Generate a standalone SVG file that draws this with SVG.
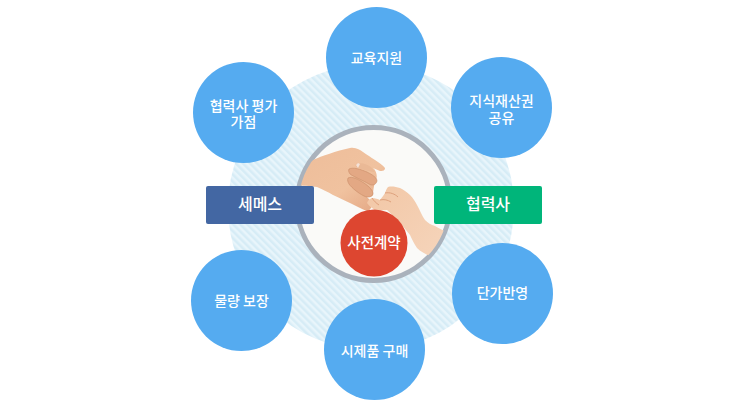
<svg xmlns="http://www.w3.org/2000/svg" width="750" height="415" viewBox="0 0 750 415">
<style>
.b{fill:#55abf0}
.t{font-family:"Noto Sans CJK KR","Noto Sans",sans-serif;font-size:14px;font-weight:500;fill:#fff;text-anchor:middle}
.l{font-size:16px}
.m{font-size:14.500px}
.f{fill:#e3a884;stroke:#c98d68;stroke-width:.6}
</style>
<defs>
<pattern id="h" width="5" height="5" patternUnits="userSpaceOnUse" patternTransform="rotate(-45)">
<rect width="5" height="5" fill="#e8f5fb"/><rect width="2.500" height="5" fill="#d6ecf6"/>
</pattern>
<linearGradient id="lh" x1="0" y1="0" x2="1" y2="1"><stop offset="0" stop-color="#eebd9a"/><stop offset=".6" stop-color="#f0c29f"/><stop offset="1" stop-color="#e3a582"/></linearGradient>
<linearGradient id="rh" x1="0" y1="0" x2="1" y2="1"><stop offset="0" stop-color="#f2c7a6"/><stop offset="1" stop-color="#f6d6bd"/></linearGradient>
<clipPath id="c"><circle cx="373.500" cy="204" r="75"/></clipPath>
</defs>
<rect width="750" height="415" fill="#fff"/>
<circle id="halo" cx="371" cy="207" r="143" fill="url(#h)"/>
<g id="connectors"/>
<g id="center-photo">
<circle cx="373.500" cy="204" r="76.500" fill="#fafaf8" stroke="#aab2bc" stroke-width="5"/>
<g clip-path="url(#c)">
<path fill="url(#lh)" d="M296 172C303 168 308 163 313 160C322 156 336 151 350 148C356 147 360 150 363 152C369 156 372 158 375 160C379 163 383 165 385 168C385 171 382 171 380 171L373 168C377 171 378 178 375 182C374 186 373 190 373 195C372 197 369 197 367 197C370 200 373 203 372 205C371 209 369 211 367 211C363 210 361 208 358 207L350 203C344 200 339 198 333 195C328 192 322 189 317 187C311 186 306 186 296 185Z"/>
<path class="f" d="M349 169C353 167 360 169 367 172C373 175 377 178 377 181C376 185 372 186 369 184C362 180 354 177 350 174C349 172 348 171 349 169Z"/>
<path class="f" d="M348 178C352 176 358 179 364 183C370 187 373 191 373 194C372 197 368 198 364 196C358 193 352 188 349 184C348 182 347 180 348 178Z"/>
<path fill="#eab996" d="M356 164C360 162 368 164 372 168L375 172C371 172 364 170 358 168C356 167 355 166 356 164Z"/>
<path fill="#f4e2d8" d="M356 165L358 163L360 164L358 168Z"/>
<path fill="url(#rh)" d="M367 203C368 200 370 199 372 198C375 198 378 199 380 200C382 197 384 195 385 193C386 190 387 188 388 187C392 186 396 187 400 188C404 190 407 192 410 195C413 198 415 201 417 205C420 210 422 216 425 220C428 223 431 225 435 226C440 229 445 231 450 233L450 265C444 262 438 260 433 257C427 255 421 252 417 248C414 244 412 239 410 235C406 230 402 225 397 220C394 216 390 213 387 210C383 210 379 211 375 210C372 208 369 206 367 203Z"/>
<path d="M380 200C384 199 388 200 391 202M385 193C390 192 395 194 398 197M372 198C374 201 376 203 379 205" fill="none" stroke="#dda17c" stroke-width="1"/>
</g>
</g>
<g id="n-center"><circle cx="374" cy="243" r="33.500" fill="#dd4630"/><text class="t m" x="374" y="248">사전계약</text></g>
<g id="n-semes"><rect x="206" y="186" width="108" height="38" rx="2" fill="#4367a3"/><text class="t l" x="260" y="210">세메스</text></g>
<g id="n-partner"><rect x="434" y="186" width="108" height="38" rx="2" fill="#00b57a"/><text class="t l" x="488" y="210">협력사</text></g>
<g id="n1"><circle class="b" cx="376.500" cy="57.500" r="50.500"/><text class="t" x="376.500" y="63">교육지원</text></g>
<g id="n2"><circle class="b" cx="501.500" cy="107.500" r="50.500"/><text class="t" x="501.500" y="106">지식재산권</text><text class="t" x="501.500" y="123">공유</text></g>
<g id="n3"><circle class="b" cx="502.500" cy="293.500" r="50.500"/><text class="t" x="502.500" y="298">단가반영</text></g>
<g id="n4"><circle class="b" cx="374.500" cy="349.500" r="50.500"/><text class="t" x="374.500" y="356">시제품 구매</text></g>
<g id="n5"><circle class="b" cx="241.500" cy="300.500" r="50.500"/><text class="t" x="241.500" y="306">물량 보장</text></g>
<g id="n6"><circle class="b" cx="243.500" cy="112.500" r="50.500"/><text class="t" x="243.500" y="111">협력사 평가</text><text class="t" x="243.500" y="127">가점</text></g>
</svg>
